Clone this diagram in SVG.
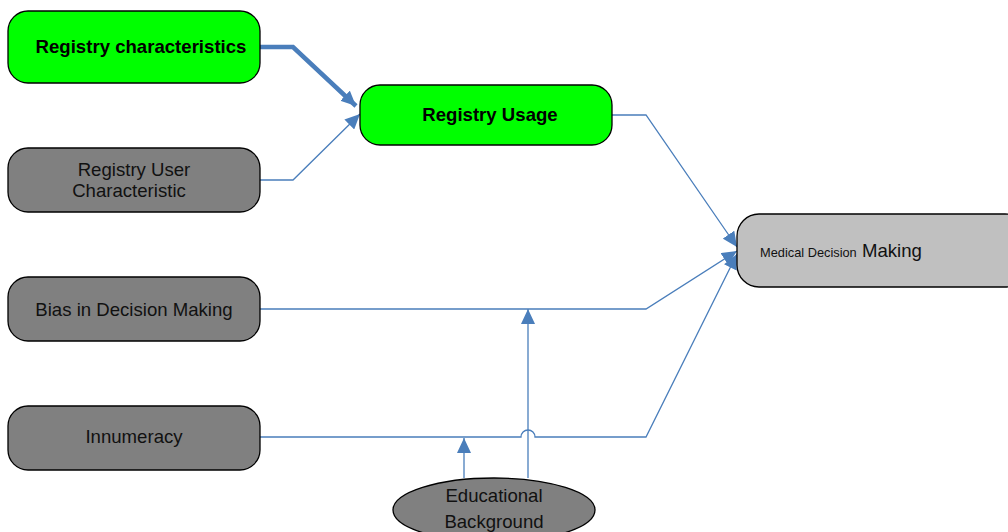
<svg xmlns="http://www.w3.org/2000/svg" width="1008" height="532" viewBox="0 0 1008 532">
  <style>
    .box { stroke: #000; stroke-width: 1.3; }
    .green { fill: #00ff00; }
    .gray { fill: #808080; }
    .light { fill: #c0c0c0; }
    .lbl { font-family: "Liberation Sans", Arial, sans-serif; font-size: 18.6px; fill: #111; text-anchor: middle; }
    .bold { font-weight: bold; fill: #000; }
    .wire { fill: none; stroke: #4a7ebb; stroke-width: 1.3; }
    .thick { stroke-width: 4.5; }
  </style>
  <defs>
    <marker id="head" markerUnits="userSpaceOnUse" markerWidth="16" markerHeight="14" refX="15" refY="7" orient="auto">
      <path d="M0,0 L15,7 L0,14 Z" fill="#4a7ebb"/>
    </marker>
  </defs>

  <g id="connectors">
    <path class="wire thick" d="M260,47 H293 L356,106" marker-end="url(#head)"/>
    <path class="wire" d="M260,180 H293 L360,114" marker-end="url(#head)"/>
    <path class="wire" d="M612,115 H646 L737,247" marker-end="url(#head)"/>
    <path class="wire" d="M260,309 H646 L737,251" marker-end="url(#head)"/>
    <path class="wire" d="M260,437 H521 A7,7 0 0 1 535,437 H646 L737,254" marker-end="url(#head)"/>
    <path class="wire" d="M528,478 V309" marker-end="url(#head)"/>
    <path class="wire" d="M464,478 V438" marker-end="url(#head)"/>
  </g>

  <g id="registry-characteristics">
    <rect class="box green" x="8" y="11" width="252" height="72" rx="20"/>
    <text class="lbl bold" x="141" y="53">Registry characteristics</text>
  </g>
  <g id="registry-user-characteristic">
    <rect class="box gray" x="8" y="148" width="252" height="64" rx="20"/>
    <text class="lbl" x="134" y="176">Registry User</text>
    <text class="lbl" x="129" y="197">Characteristic</text>
  </g>
  <g id="bias-in-decision-making">
    <rect class="box gray" x="8" y="277" width="252" height="64" rx="20"/>
    <text class="lbl" x="134" y="316">Bias in Decision Making</text>
  </g>
  <g id="innumeracy">
    <rect class="box gray" x="8" y="406" width="252" height="64" rx="20"/>
    <text class="lbl" x="134" y="443">Innumeracy</text>
  </g>
  <g id="registry-usage">
    <rect class="box green" x="360" y="85" width="252" height="60" rx="20"/>
    <text class="lbl bold" x="490" y="121">Registry Usage</text>
  </g>
  <g id="medical-decision-making">
    <rect class="box light" x="737" y="214" width="290" height="73" rx="22"/>
    <text class="lbl" x="760" y="257" style="text-anchor:start"><tspan font-size="12.8">Medical Decision</tspan> Making</text>
  </g>
  <g id="educational-background">
    <ellipse class="box gray" cx="494" cy="510" rx="101" ry="32"/>
    <text class="lbl" x="494" y="502">Educational</text>
    <text class="lbl" x="494" y="528">Background</text>
  </g>
</svg>
